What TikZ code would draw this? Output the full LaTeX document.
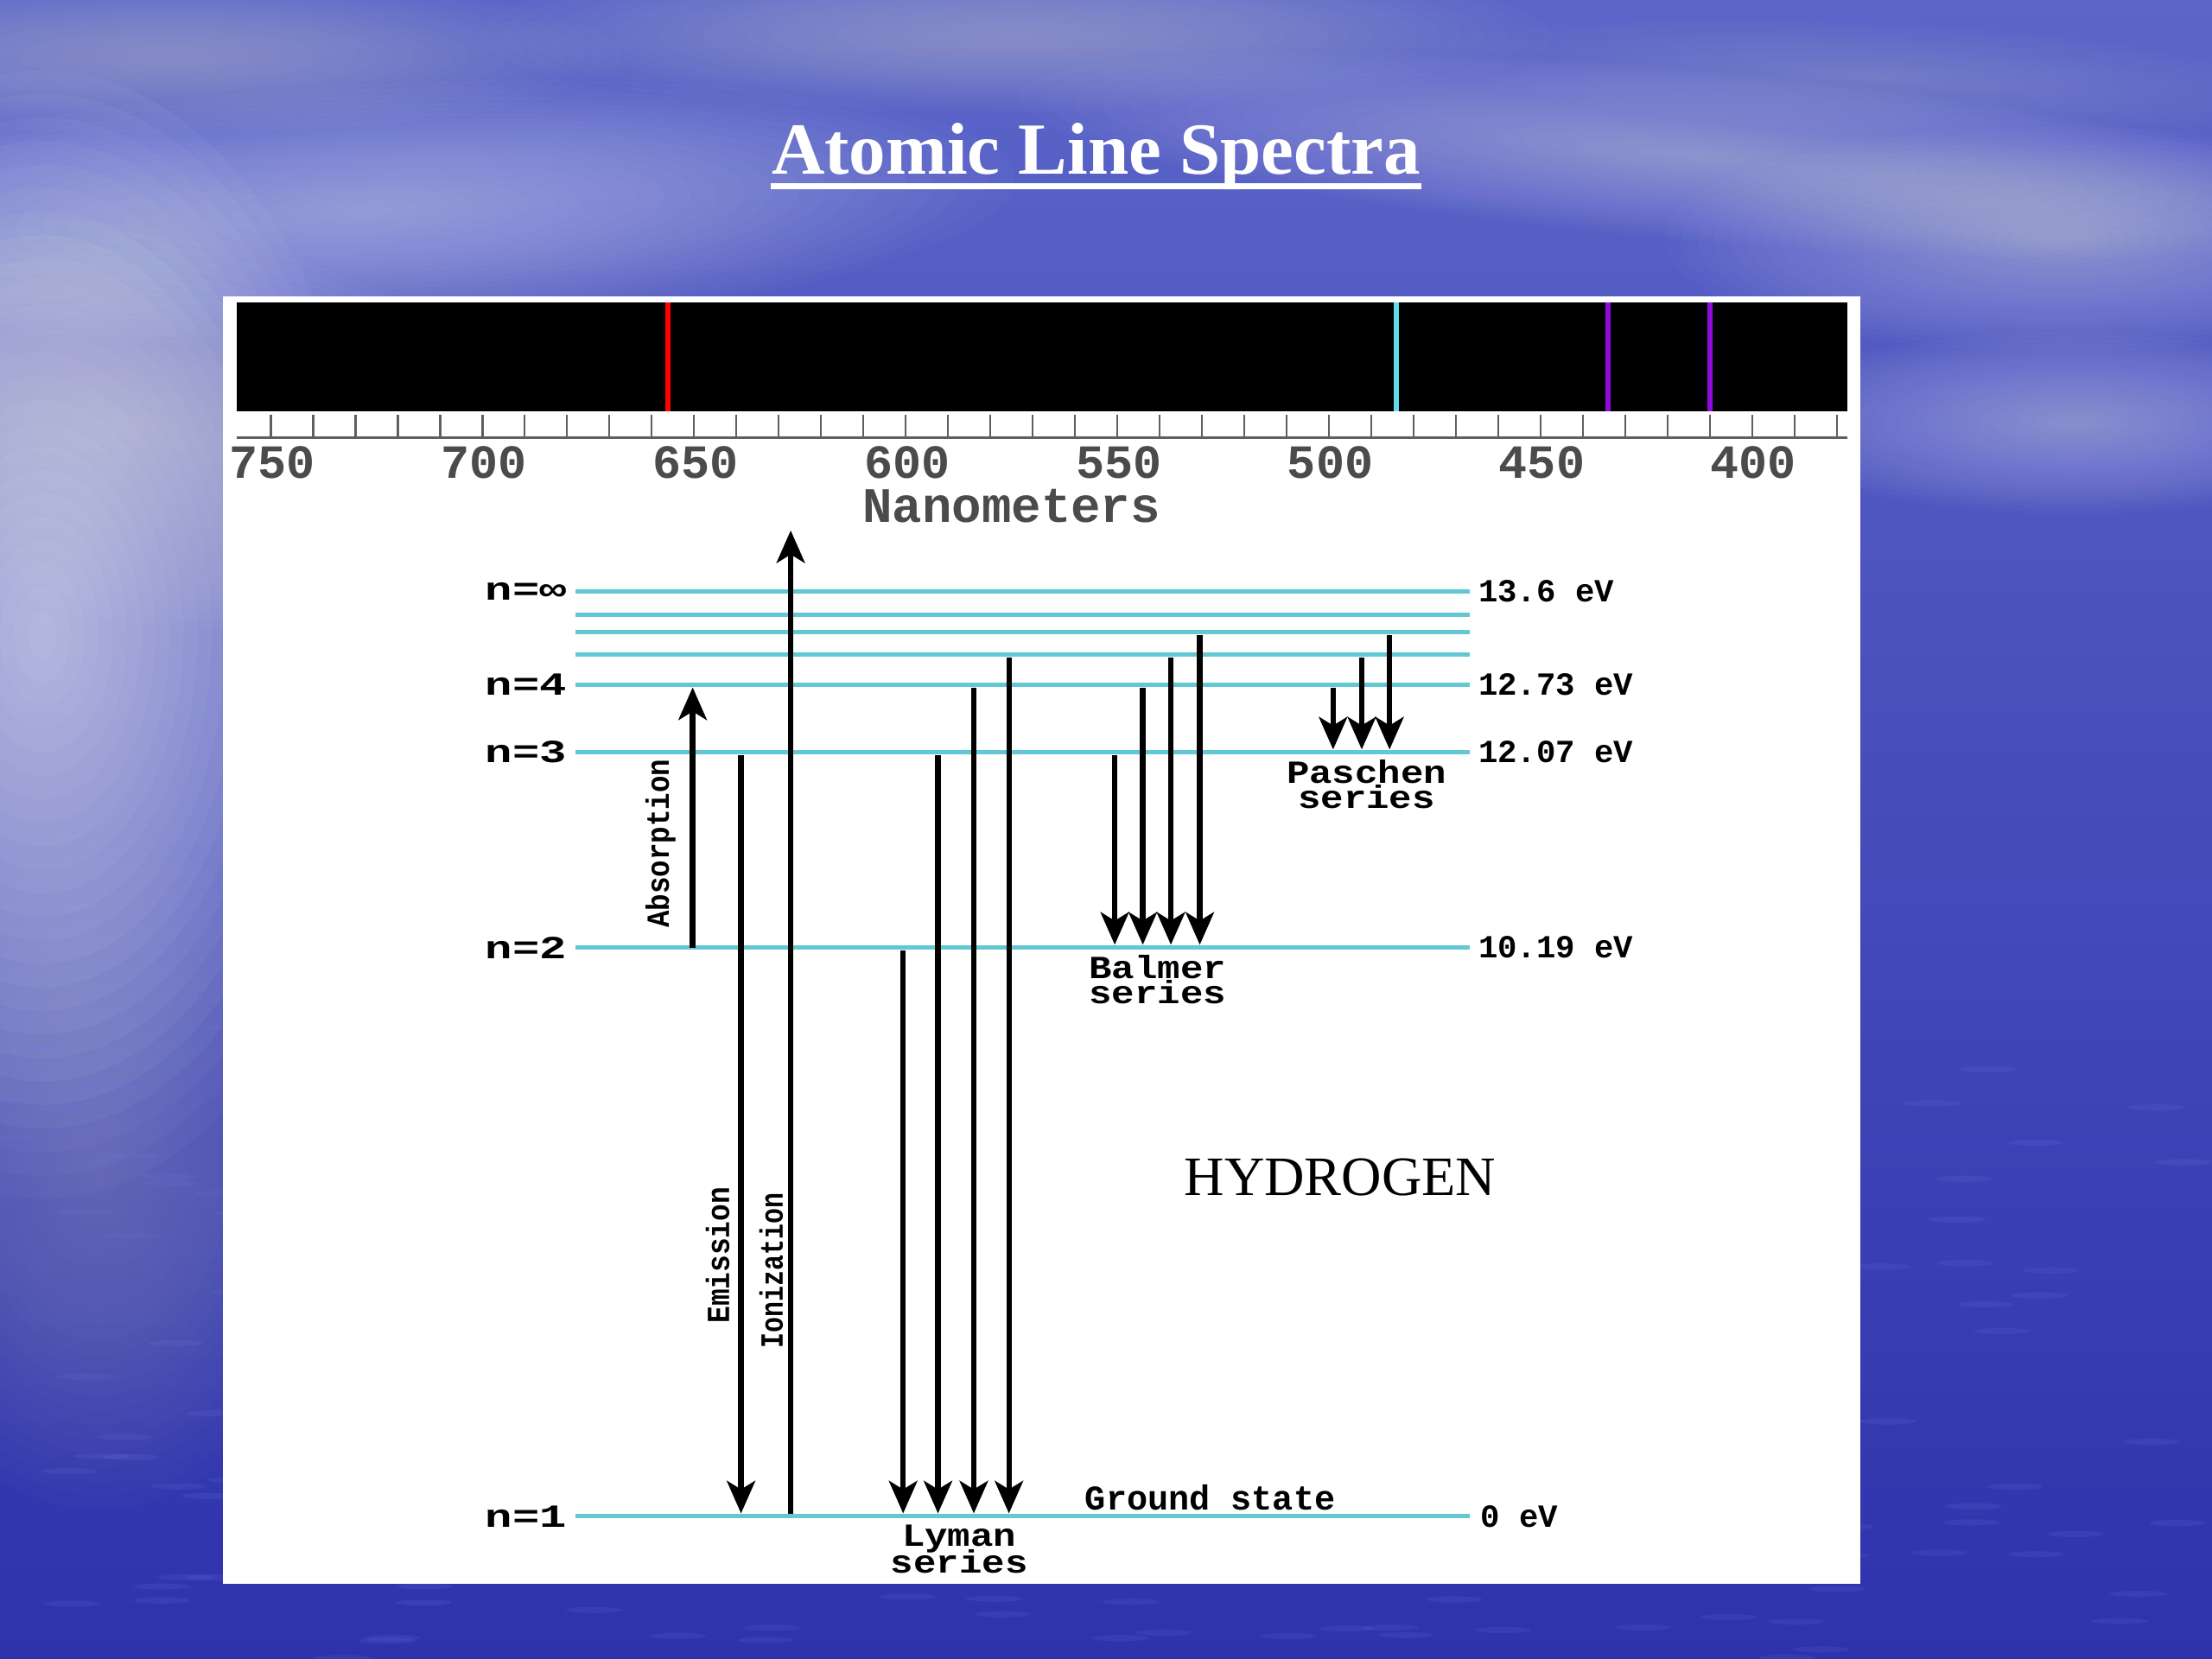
\documentclass[tikz,border=0pt]{standalone}
\usepackage{fontspec}
\newfontfamily\monof{Liberation Mono}
\newfontfamily\seriff{Liberation Serif}
\usetikzlibrary{arrows.meta}
\newcommand\hstretch[2]{\scalebox{#1}[1]{#2}}
\newcommand\softcloud[6]{\foreach \k in {1,...,24}{\fill[white, opacity=#6] (#1,#2) ellipse [x radius={#3*\k/24}, y radius={#4*\k/24}, rotate=#5];}}
\definecolor{lvlc}{RGB}{100,200,212}
\definecolor{bgtop}{RGB}{92,102,200}
\definecolor{bgmid}{RGB}{68,76,188}
\definecolor{bgbot}{RGB}{46,50,172}
\definecolor{ripc}{RGB}{110,120,225}
\definecolor{hred}{RGB}{255,0,0}
\definecolor{hcyan}{RGB}{95,220,235}
\definecolor{hviolet}{RGB}{145,10,220}
\definecolor{axisg}{RGB}{95,95,95}
\definecolor{labg}{RGB}{75,75,75}
\begin{document}
\begin{tikzpicture}[x=0.01cm,y=-0.01cm,
  lvl/.style={draw=lvlc, line width=0.85pt},
  trans/.style={draw=black, line width=1.1pt, shorten <=0.02cm, shorten >=0.02cm,
    -{Stealth[length=0.23cm,width=0.2cm,inset=0.06cm]}},
  lvllab/.style={font=\monof\bfseries\fontsize{6.5}{7}\selectfont, inner sep=0, anchor=west},
  serlab/.style={font=\monof\bfseries\fontsize{6.5}{7}\selectfont, inner sep=0, anchor=base},
  rotlab/.style={font=\monof\bfseries\fontsize{6.5}{7}\selectfont, inner sep=0, rotate=90},
  axlab/.style={font=\monof\bfseries\fontsize{9.6}{10}\selectfont, text=labg, inner sep=0}]
\useasboundingbox (0,0) rectangle (1568,1176);
% ---------- background ----------
\shade[top color=bgtop, middle color=bgmid, bottom color=bgbot] (0,0) rectangle (1568,1176);
\softcloud{30}{450}{240}{400}{0}{0.04}
\softcloud{90}{300}{300}{140}{-8}{0.02}
\softcloud{260}{150}{460}{90}{3}{0.022}
\softcloud{120}{40}{320}{55}{0}{0.014}
\softcloud{720}{25}{380}{55}{0}{0.014}
\softcloud{1200}{110}{480}{60}{-5}{0.018}
\softcloud{1330}{55}{320}{40}{-3}{0.012}
\softcloud{1460}{170}{280}{80}{0}{0.02}
\softcloud{1470}{300}{230}{65}{0}{0.018}
\softcloud{70}{830}{170}{240}{0}{0.01}
\pgfmathsetseed{7}
\foreach \i in {1,...,220}{
  \pgfmathsetmacro\rx{rnd*1568}
  \pgfmathsetmacro\ry{720+rnd*456}
  \fill[ripc, opacity=0.15] (\rx,\ry) ellipse [x radius=20, y radius=2.2];
}
% ---------- title ----------
\node[font=\seriff\bfseries\fontsize{14.8}{16}\selectfont, text=white, inner sep=0, anchor=base]
  (title) at (777,123.5) {Atomic Line Spectra};
\draw[white, line width=1.3pt] ([yshift=-0.085cm]title.base west) -- ([yshift=-0.085cm]title.base east);
% ---------- panel ----------
\fill[white] (158,210) rectangle (1319,1123);
% ---------- spectrum ----------
\fill[black] (168,214.4) rectangle (1309.8,291.3);
\draw[hred, line width=1.1pt] (473.5,214.4) -- (473.5,291.3);
\draw[hcyan, line width=1pt] (990,214.4) -- (990,291.3);
\draw[hviolet, line width=1pt] (1140,214.4) -- (1140,291.3);
\draw[hviolet, line width=1pt] (1212,214.4) -- (1212,291.3);
\draw[axisg, line width=0.5pt] (168,310.5) -- (1309.8,310.5);
\foreach \l in {750,740,...,380}{
  \draw[axisg, line width=0.4pt] ({192+3*(750-\l)},294) -- ({192+3*(750-\l)},310.5);
}
\foreach \l in {750,700,...,400}{
  \node[axlab] (lab\l) at ({193+3*(750-\l)},328) {\l};
}
\node[axlab, font=\monof\bfseries\fontsize{10}{10}\selectfont] (nm) at (717,359) {Nanometers};
% ---------- energy levels ----------
\foreach \n/\y in {inf/419.1, 7/435.9, 6/448.2, 5/464.1, 4/485.3, 3/533.3, 2/671.7, 1/1074.8}{
  \coordinate (L\n) at (408,\y);
  \coordinate (R\n) at (1042,\y);
  \draw[lvl] (L\n) -- (R\n);
}
\node[lvllab] (ninf) at (343.4,419.1) {\hstretch{1.4}{n=∞}};
\node[lvllab] (n4) at (343.4,485.3) {\hstretch{1.4}{n=4}};
\node[lvllab] (n3) at (343.4,533.3) {\hstretch{1.4}{n=3}};
\node[lvllab] (n2) at (343.4,671.7) {\hstretch{1.4}{n=2}};
\node[lvllab] (n1) at (343.4,1074.8) {\hstretch{1.4}{n=1}};
\node[lvllab] (e136) at (1047.4,419.1) {13.6 eV};
\node[lvllab] (e1273) at (1047.4,485.3) {12.73 eV};
\node[lvllab] (e1207) at (1047.4,533.3) {12.07 eV};
\node[lvllab] (e1019) at (1047.4,671.7) {10.19 eV};
\node[lvllab] (e0) at (1049,1074.8) {0 eV};
% ---------- transitions ----------
\coordinate (cAb) at (491,0);
\coordinate (cEm) at (525.3,0);
\coordinate (cIo) at (560.5,0);
\coordinate (ionTop) at (560.5,376);
\draw[trans, shorten <=0pt] (cAb |- L2) -- (cAb |- L4);
\draw[trans] (cEm |- L3) -- (cEm |- L1);
\draw[trans, shorten >=0pt] (cIo |- L1) -- (ionTop);
% Lyman
\foreach \x/\s in {640.2/2, 664.9/3, 690.3/4, 715.2/5}{
  \coordinate (cLy\s) at (\x,0);
  \draw[trans] (cLy\s |- L\s) -- (cLy\s |- L1);
}
% Balmer
\foreach \x/\s in {790.2/3, 810.1/4, 830/5, 850.5/6}{
  \coordinate (cBa\s) at (\x,0);
  \draw[trans] (cBa\s |- L\s) -- (cBa\s |- L2);
}
% Paschen
\foreach \x/\s in {945/4, 965.3/5, 985/6}{
  \coordinate (cPa\s) at (\x,0);
  \draw[trans] (cPa\s |- L\s) -- (cPa\s |- L3);
}
% ---------- labels ----------
\node[rotlab] (abs) at (468.3,598) {\hstretch{0.87}{Absorption}};
\node[rotlab] (emi) at (508.7,889.8) {\hstretch{0.88}{Emission}};
\node[rotlab] (ion) at (546.7,900.7) {\hstretch{0.8}{Ionization}};
\node[serlab] (pasA) at (968.7,555) {\hstretch{1.18}{Paschen}};
\node[serlab] (pasB) at (968.7,573) {\hstretch{1.18}{series}};
\node[serlab] (balA) at (820.5,693.5) {\hstretch{1.18}{Balmer}};
\node[serlab] (balB) at (820.5,711.5) {\hstretch{1.18}{series}};
\node[serlab] (lymA) at (680,1096) {\hstretch{1.18}{Lyman}};
\node[serlab] (lymB) at (680,1115) {\hstretch{1.18}{series}};
\node[serlab, font=\monof\bfseries\fontsize{7}{7}\selectfont] (gs) at (857.9,1070.6) {Ground state};
\node[font=\seriff\fontsize{11.2}{12}\selectfont, inner sep=0, anchor=base] (hyd) at (950,847.6) {HYDROGEN};
\end{tikzpicture}
\end{document}
